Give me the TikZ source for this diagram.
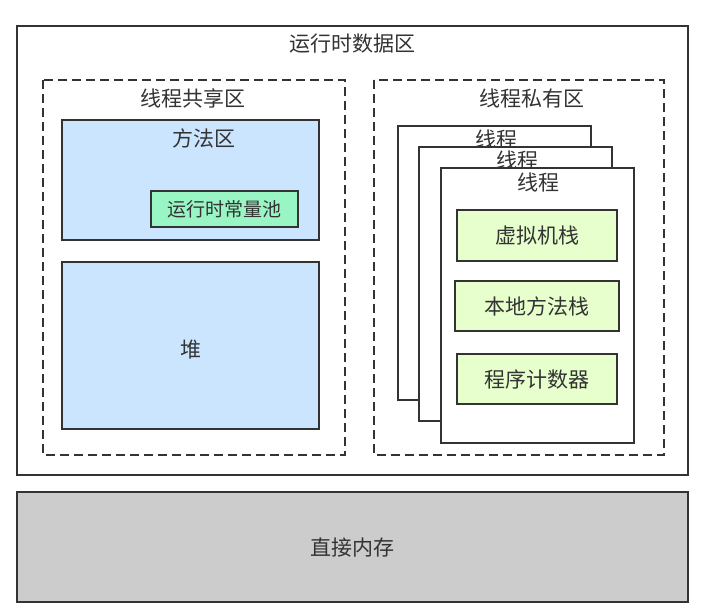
\documentclass[tikz,border=0pt]{standalone}
\usepackage{fontspec}
\setmainfont{Noto Sans CJK SC}
\begin{document}
\begin{tikzpicture}[x=1pt,y=-1pt,
  every node/.style={text=txt,font=\fontsize{21}{21}\selectfont,inner sep=0pt},
  box/.style={draw=edge,line width=1.4pt},
  dbox/.style={draw=edge,line width=1.4pt,dash pattern=on 9pt off 5pt},
]
\definecolor{txt}{HTML}{333333}
\definecolor{edge}{HTML}{333333}
\definecolor{blue1}{HTML}{CCE5FF}
\definecolor{mint}{HTML}{99F5C4}
\definecolor{lgreen}{HTML}{E6FFCC}
\definecolor{gray1}{HTML}{CCCCCC}
\useasboundingbox (0,0) rectangle (701,614);
% outer
\draw[box,fill=white] (17,26) rectangle (688,475);
\node (rt) at (352,44) {运行时数据区};
% shared
\draw[dbox] (43,80) rectangle (345,455);
\node (sh) at (193,98) {线程共享区};
\draw[box,fill=blue1] (62,120) rectangle (319,240);
\node (ma) at (204,138) {方法区};
\draw[box,fill=mint] (151,191) rectangle (298,227);
\node[font=\fontsize{19}{19}\selectfont] (cp) at (224.5,209) {运行时常量池};
\draw[box,fill=blue1] (62,262) rectangle (319,429);
\node (heap) at (191,350) {堆};
% private
\draw[dbox] (374,80) rectangle (664,455);
\node (pr) at (532,98) {线程私有区};
\draw[box,fill=white] (398,126) rectangle (591,400);
\node (t1) at (496,139) {线程};
\draw[box,fill=white] (419,147) rectangle (612,421);
\node (t2) at (517,160) {线程};
\draw[box,fill=white] (441,168) rectangle (634,443);
\node (t3) at (538,182) {线程};
\draw[box,fill=lgreen] (457,210) rectangle (617,261);
\node (vs) at (537,236) {虚拟机栈};
\draw[box,fill=lgreen] (455,281) rectangle (619,331);
\node (ns) at (537,306) {本地方法栈};
\draw[box,fill=lgreen] (457,354) rectangle (617,404);
\node (pc) at (537,379) {程序计数器};
% direct memory
\draw[box,fill=gray1] (17,492) rectangle (688,602);
\node (dm) at (352,548) {直接内存};
\end{tikzpicture}
\end{document}
